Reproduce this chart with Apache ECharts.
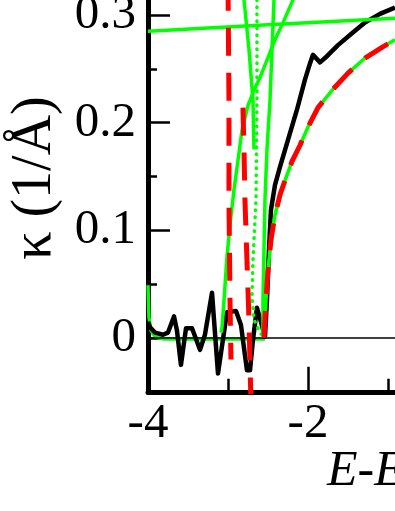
<!DOCTYPE html>
<html><head><meta charset="utf-8">
<script src="https://cdn.jsdelivr.net/npm/echarts@6/dist/echarts.min.js"></script>
<style>html,body{margin:0;padding:0;background:#fff}#c{width:395px;height:511px}</style>
</head><body><div id="c"></div>
<script>
// Tick labels
const xTickLabels = ['-4', '-2'];
const yTickLabels = ['0', '0.1', '0.2', '0.3'];
// Black solid curve (E, kappa)
const blackCurve = [[-4.000,0.015],[-3.975,0.010],[-3.913,0.005],[-3.813,0.003],[-3.750,0.005],[-3.675,0.020],[-3.638,0.007],[-3.588,-0.025],[-3.525,0.009],[-3.450,0.009],[-3.350,-0.011],[-3.288,0.003],[-3.200,0.042],[-3.125,-0.033],[-3.013,0.024],[-2.900,0.025],[-2.838,0.012],[-2.763,-0.030],[-2.725,-0.030],[-2.688,-0.002],[-2.638,0.028],[-2.588,0.015],[-2.538,0.001],[-2.513,0.035],[-2.488,0.082],[-2.463,0.119],[-2.413,0.142],[-2.350,0.159],[-2.250,0.184],[-2.138,0.212],[-2.038,0.240],[-1.975,0.255],[-1.938,0.263],[-1.850,0.256],[-1.788,0.260],[-1.625,0.272],[-1.450,0.283],[-1.288,0.293],[-1.100,0.301],[-0.913,0.307]];
// Green solid branches
const greenFlat = [[-4.000,0.049],[-3.988,0.019],[-3.963,0.007],[-3.913,0.001],[-3.800,-0.001],[-2.540,-0.001]];
const greenTop = [[-4.000,0.285],[-2.500,0.291],[-0.913,0.297]];
const greenA = [[-2.800,0.314],[-2.738,0.268],[-2.688,0.221],[-2.675,0.175]];
const greenB = [[-3.088,0.005],[-3.075,0.010],[-3.050,0.035],[-3.013,0.075],[-2.975,0.105],[-2.925,0.138],[-2.875,0.165],[-2.825,0.193],[-2.750,0.216],[-2.675,0.230],[-2.600,0.242],[-2.513,0.258],[-2.413,0.277],[-2.300,0.295],[-2.188,0.314],[-2.100,0.330]];
const greenC = [[-2.425,0.314],[-2.450,0.268],[-2.475,0.221],[-2.513,0.175],[-2.538,0.128],[-2.550,0.082],[-2.563,0.035],[-2.563,0.003]];
const greenD = [[-2.550,0.000],[-2.538,0.017],[-2.525,0.035],[-2.500,0.063],[-2.463,0.091],[-2.413,0.114],[-2.350,0.133],[-2.275,0.149],[-2.200,0.164],[-2.100,0.179],[-2.000,0.196],[-1.875,0.214],[-1.700,0.230],[-1.500,0.246],[-1.288,0.260],[-1.075,0.270],[-0.913,0.277]];
// Green dotted branch
const greenDotted = [[-2.638,0.314],[-2.638,0.221],[-2.650,0.128],[-2.688,0.072],[-2.700,0.038],[-2.675,0.017],[-2.600,0.005],[-2.538,0.000]];
// Red dashed branches
const redA = [[-3.000,0.330],[-2.988,0.221],[-2.988,0.128],[-2.975,0.035],[-2.963,-0.020]];
const redB = [[-2.813,0.214],[-2.800,0.175],[-2.788,0.128],[-2.763,0.072],[-2.738,0.017],[-2.713,-0.060]];
const redC = greenD.slice();
// Zero reference line
const zeroLine = [[-4,0],[0,0]];

const G = '#00ff00', R = '#ff0000', K = '#000000';
const font = '"Liberation Serif","Times New Roman",serif';
function ln(data, color, width, type, z) {
  return {type:'line', data, showSymbol:false, symbol:'none', silent:true, animation:false, z:z||2,
    lineStyle:{color, width, type:type||'solid', cap:(Array.isArray(type)&&type[0]<1)?'round':'butt', join:'round'}};
}
const chart = echarts.init(document.getElementById('c'), null, {renderer:'canvas'});
const isTenth = v => Math.abs(v*10 - Math.round(v*10)) < 1e-6;
chart.setOption({
  animation:false,
  backgroundColor:'#fff',
  grid:{left:148, top:-92.67, width:320, height:484.47, containLabel:false, outerBoundsMode:'none'},
  xAxis:[
    {type:'value', min:-4, max:0, interval:1, position:'bottom',
     axisLine:{show:true, onZero:false, lineStyle:{color:K, width:5}},
     axisTick:{show:true, inside:true, length:13, lineStyle:{color:K, width:2.5}},
     axisLabel:{show:true, margin:8, fontSize:49, fontFamily:font, color:K,
       formatter:v => { const s = String(v); return xTickLabels.indexOf(s) >= 0 ? s : ''; }},
     splitLine:{show:false}},
    {type:'value', min:-4, max:0, interval:2, position:'bottom',
     axisLine:{show:false, onZero:false},
     axisTick:{show:true, inside:true, length:25, lineStyle:{color:K, width:2.5}},
     axisLabel:{show:false}, splitLine:{show:false}}
  ],
  yAxis:[
    {type:'value', min:-0.05, max:0.4, interval:0.05, position:'left',
     axisLine:{show:true, onZero:false, lineStyle:{color:K, width:5}},
     axisTick:{show:true, inside:true, length:9, lineStyle:{color:K, width:2.5}},
     axisLabel:{show:true, margin:12, fontSize:49, fontFamily:font, color:K,
       formatter:v => { if (!isTenth(v) || v < -1e-9) return ''; const s = Math.abs(v) < 1e-9 ? '0' : v.toFixed(1); return yTickLabels.indexOf(s) >= 0 ? s : ''; }},
     splitLine:{show:false}},
    {type:'value', inverse:true, min:-0.4, max:0.05, interval:0.1, position:'left',
     axisLine:{show:false, onZero:false},
     axisTick:{show:true, inside:true, length:22, lineStyle:{color:K, width:2.5}},
     axisLabel:{show:false}, splitLine:{show:false}}
  ],
  series:[
    ln(greenFlat, G, 3.5),
    ln(blackCurve, K, 4.5),
    ln(greenTop, G, 3.5),
    ln(greenA, G, 3.5),
    ln(greenB, G, 3.5),
    ln(greenC, G, 3.5),
    ln(greenD, G, 3.5),
    ln(greenDotted, G, 3.5, [0.5, 6.5]),
    ln(zeroLine, K, 1.5),
    ln(redA, R, 5, [28, 17]),
    ln(redB, R, 5, [28, 17]),
    ln(redC, R, 5, [27, 17])
  ],
  graphic:[
    {type:'text', x:35, y:178, rotation:Math.PI/2,
     style:{text:'κ (1/Å)', fill:K, font:'56px ' + font, align:'center', verticalAlign:'middle'}},
    {type:'text', x:327, y:471.5,
     style:{text:'{i|E}{n|-}{i|E}{s|F}{n| (eV)}', fill:K, align:'left', verticalAlign:'middle',
       rich:{i:{fontSize:50, fontStyle:'italic', fontFamily:font}, n:{fontSize:50, fontFamily:font}, s:{fontSize:32, fontFamily:font, verticalAlign:'bottom'}}}}
  ]
});
</script></body></html>
